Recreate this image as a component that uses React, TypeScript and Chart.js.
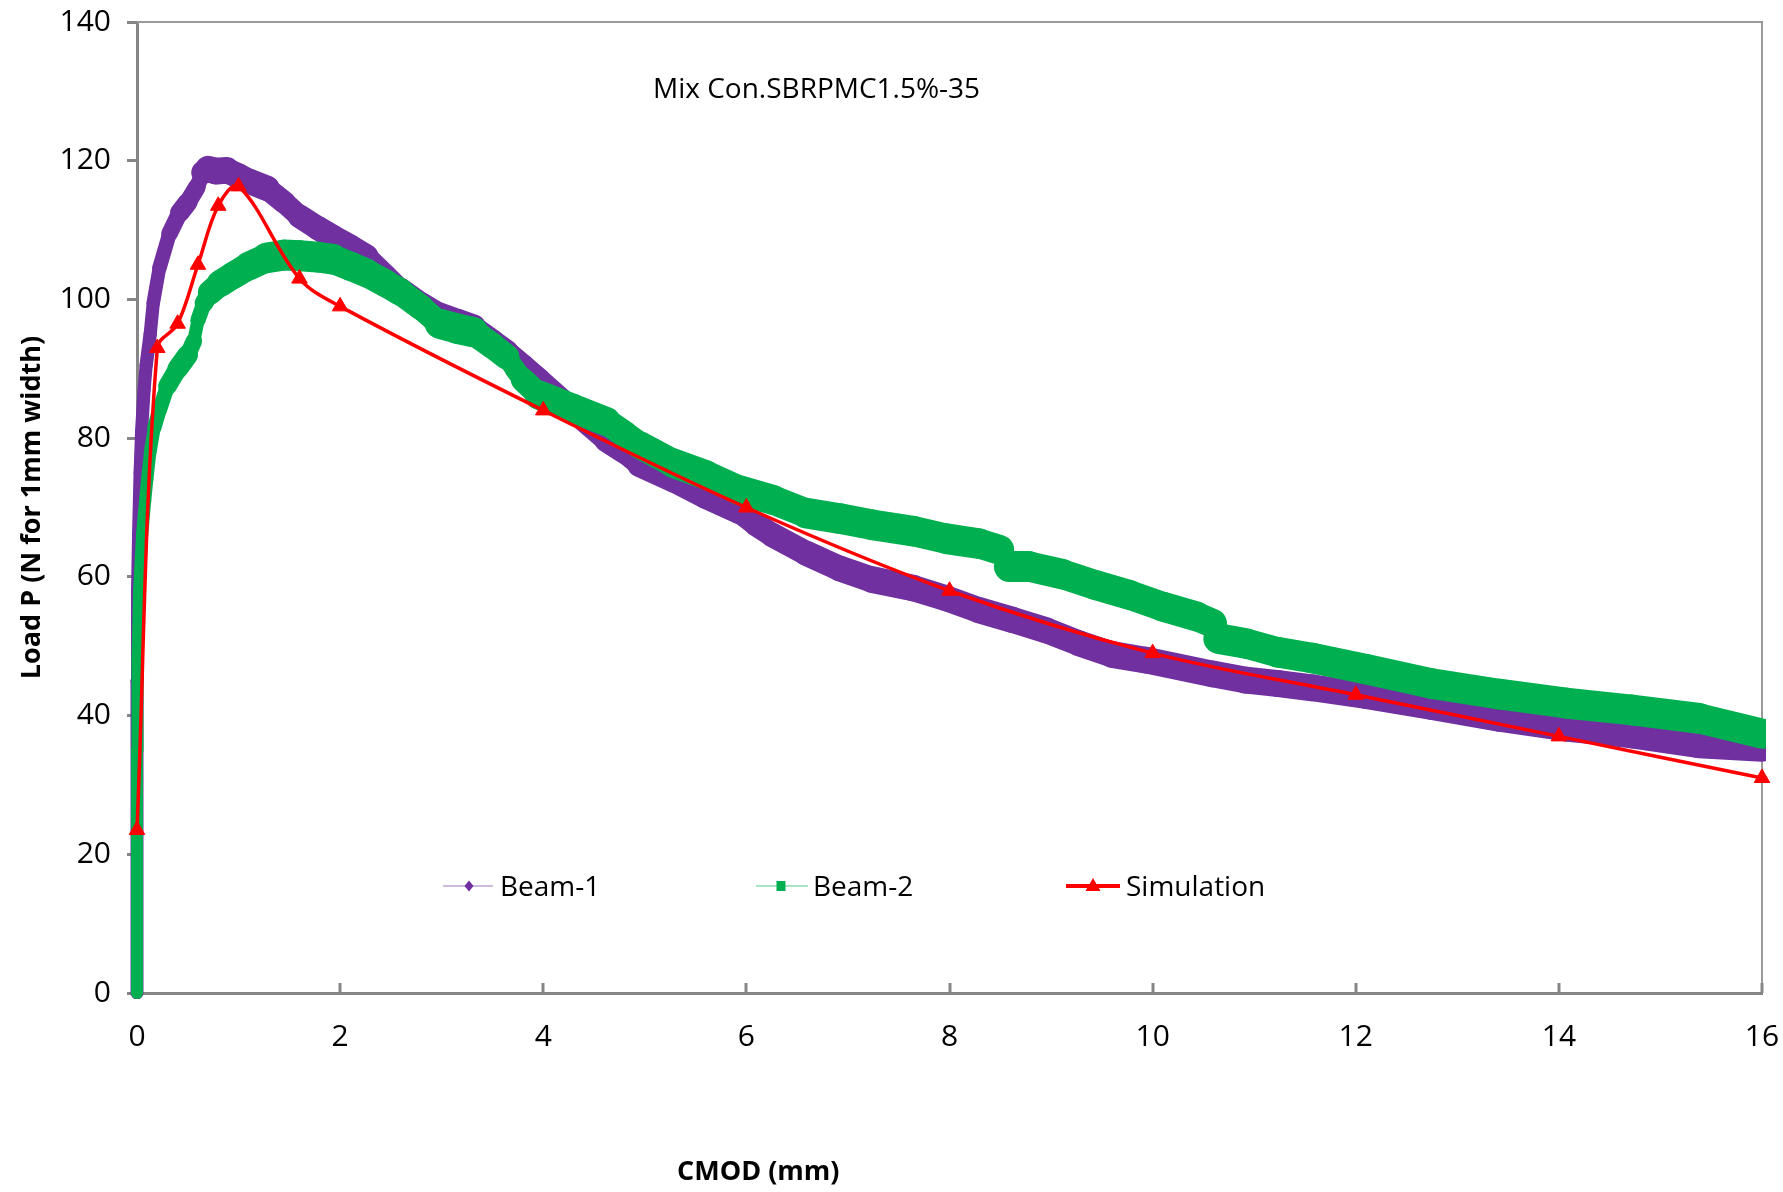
import React, { useEffect, useRef } from 'react';
import { Chart, registerables } from 'chart.js';

Chart.register(...registerables);

// ---------- text ----------
const chartTitle = 'Mix Con.SBRPMC1.5%-35';
const xTitle = 'CMOD (mm)';
const yTitle = 'Load P (N for 1mm width)';
const seriesNames = ['Beam-1', 'Beam-2', 'Simulation'];

// ---------- ticks ----------
const xTicks = [0, 2, 4, 6, 8, 10, 12, 14, 16];
const yTicks = [0, 20, 40, 60, 80, 100, 120, 140];

// ---------- data: [CMOD (mm), Load (N)] ----------
const beam1: [number, number][] = [
  [0, 0], [0, 15], [0, 30], [0, 45], [0.005, 58], [0.015, 66], [0.03, 75], [0.045, 81],
  [0.07, 87], [0.09, 90.5], [0.13, 95], [0.16, 99.5], [0.22, 104.5], [0.32, 109.5],
  [0.42, 112.5], [0.5, 114], [0.59, 116.2], [0.65, 118.3], [0.7, 118.8],
  [0.78, 118.5], [0.88, 118.6], [1.0, 117.8], [1.11, 117], [1.28, 116], [1.45, 114],
  [1.6, 112], [1.78, 110.3], [1.93, 109], [2.1, 107.6], [2.26, 106.2], [2.45, 103.5],
  [2.59, 101.5], [2.8, 99.3], [2.98, 97.7], [3.15, 96.8], [3.31, 96], [3.5, 94],
  [3.64, 92.5], [3.8, 90.5], [3.96, 88.5], [4.19, 85.5], [4.4, 82.5], [4.62, 79.7],
  [4.8, 78], [4.95, 76.2], [5.28, 74], [5.6, 71.6], [5.93, 69.4], [6.1, 67.5], [6.26, 66],
  [6.59, 63.4], [6.92, 61.2], [7.24, 59.6], [7.64, 58.4], [7.97, 56.9], [8.29, 55.2],
  [8.62, 53.8], [8.95, 52.3], [9.28, 50.4], [9.6, 48.8], [9.93, 48], [10.26, 47],
  [10.59, 46], [10.92, 45.1], [11.24, 44.6], [11.57, 44], [12.1, 42.9], [12.75, 41.3],
  [13.41, 39.6], [14.07, 38.2], [14.72, 37.2], [15.38, 35.8], [16.0, 35.3],
];

const beam2: [number, number][] = [
  [0, 0], [0, 10], [0, 22], [0, 35], [0.005, 48], [0.02, 58], [0.05, 66], [0.08, 71],
  [0.1, 74], [0.13, 78], [0.17, 81.5], [0.22, 84], [0.3, 87.5], [0.4, 90], [0.5, 92],
  [0.56, 94], [0.6, 97], [0.66, 99.5], [0.72, 101], [0.82, 102.3], [0.95, 103.5],
  [1.1, 104.8], [1.28, 106], [1.45, 106.4], [1.6, 106.3], [1.78, 106.1], [1.93, 105.8],
  [2.1, 104.8], [2.26, 103.8], [2.45, 102.3], [2.59, 101.1], [2.8, 98.8], [2.98, 96.5],
  [3.15, 95.8], [3.31, 95.3], [3.5, 93.3], [3.64, 91.7], [3.72, 90], [3.8, 88.4],
  [3.96, 86.2], [4.29, 84.3], [4.62, 82.4], [4.8, 80.6], [4.95, 79], [5.28, 76.4],
  [5.6, 74.7], [5.93, 72.5], [6.26, 71.1], [6.59, 69.2], [6.92, 68.4], [7.24, 67.5],
  [7.64, 66.6], [7.97, 65.5], [8.29, 64.8], [8.49, 63.9], [8.59, 61.5], [8.78, 61.5],
  [9.11, 60.4], [9.44, 58.8], [9.77, 57.4], [10.1, 55.7], [10.43, 54.3], [10.59, 53.3],
  [10.65, 51.1], [10.92, 50.4], [11.24, 49.1], [11.57, 48.3], [12.1, 46.7], [12.75, 44.6],
  [13.41, 43.1], [14.07, 41.8], [14.72, 40.8], [15.38, 39.6], [16.0, 37.4],
];

const simulation: [number, number][] = [
  [0, 23.5], [0.2, 93], [0.4, 96.5], [0.6, 105], [0.8, 113.5], [1.0, 116.3], [1.6, 103],
  [2.0, 99], [4, 84], [6, 70], [8, 58], [10, 49], [12, 43], [14, 37], [16, 31],
];

// ---------- styles ----------
const FONT = "'Open Sans', sans-serif";
const AXIS = '#868686';
const PURPLE = '#7030A0';
const GREEN = '#00B050';
const RED = '#FF0000';

const toXY = (arr: [number, number][]) => arr.map(([x, y]) => ({ x, y }));

// band thickness for the dense, noisy measured curves (vertical T, horizontal H)
const bandWidth = (T: number, H: number) => (ctx: any) => {
  const dx = ctx.p1.x - ctx.p0.x;
  const dy = ctx.p1.y - ctx.p0.y;
  const len = Math.hypot(dx, dy) || 1;
  const c = Math.abs(dx) / len;
  const s = Math.abs(dy) / len;
  return Math.sqrt((T * c) ** 2 + (H * s) ** 2);
};

const legendSlots = [
  { l0: 443, l1: 493, m: 469, t: 500, lineColor: 'rgba(112,48,160,0.45)', lw: 1.5, marker: 'diamond' },
  { l0: 756, l1: 808, m: 781, t: 813, lineColor: 'rgba(0,176,80,0.45)', lw: 1.5, marker: 'square' },
  { l0: 1066, l1: 1120, m: 1093, t: 1126, lineColor: RED, lw: 4, marker: 'triangle' },
];

const overlayPlugin = {
  id: 'overlay',
  beforeDatasetsDraw(chart: any) {
    const { ctx, chartArea: a, scales } = chart;
    ctx.save();
    ctx.strokeStyle = '#9a9a9a';
    ctx.lineWidth = 2;
    ctx.beginPath();
    ctx.moveTo(a.left, a.top);
    ctx.lineTo(a.right, a.top);
    ctx.lineTo(a.right, a.bottom);
    ctx.stroke();
    ctx.strokeStyle = AXIS;
    ctx.lineWidth = 3;
    for (const t of scales.x.ticks) {
      const px = Math.round(scales.x.getPixelForValue(t.value));
      ctx.beginPath();
      ctx.moveTo(px, a.bottom);
      ctx.lineTo(px, a.bottom - 10);
      ctx.stroke();
    }
    ctx.restore();
  },
  afterDraw(chart: any) {
    const { ctx } = chart;
    ctx.save();
    ctx.fillStyle = '#000';
    ctx.textAlign = 'left';
    ctx.textBaseline = 'alphabetic';
    ctx.font = `28px ${FONT}`;
    ctx.fillText(chartTitle, 653, 98);
    ctx.font = `bold 27px ${FONT}`;
    ctx.fillText(xTitle, 677, 1180);

    // legend
    const ly = 886;
    chart.data.datasets.forEach((ds: any, i: number) => {
      const s = legendSlots[i];
      ctx.strokeStyle = s.lineColor;
      ctx.lineWidth = s.lw;
      ctx.beginPath();
      ctx.moveTo(s.l0, ly);
      ctx.lineTo(s.l1, ly);
      ctx.stroke();
      ctx.fillStyle = ds.legendColor;
      ctx.beginPath();
      if (s.marker === 'diamond') {
        ctx.moveTo(s.m, ly - 5.5);
        ctx.lineTo(s.m + 4.5, ly);
        ctx.lineTo(s.m, ly + 5.5);
        ctx.lineTo(s.m - 4.5, ly);
        ctx.closePath();
      } else if (s.marker === 'square') {
        ctx.rect(s.m - 4.5, ly - 5, 9, 10);
      } else {
        ctx.moveTo(s.m, ly - 8);
        ctx.lineTo(s.m + 7.5, ly + 5);
        ctx.lineTo(s.m - 7.5, ly + 5);
        ctx.closePath();
      }
      ctx.fill();
      ctx.fillStyle = '#000';
      ctx.font = `28px ${FONT}`;
      ctx.fillText(ds.label, s.t, ly + 10);
    });
    ctx.restore();
  },
};

export default function App() {
  const canvasRef = useRef<HTMLCanvasElement | null>(null);

  useEffect(() => {
    document.body.style.margin = '0';
    const canvas = canvasRef.current;
    if (!canvas) return;
    const chart = new Chart(canvas, {
      type: 'line',
      data: {
        datasets: [
          {
            label: seriesNames[0],
            data: toXY(beam1),
            borderColor: PURPLE,
            backgroundColor: PURPLE,
            legendColor: PURPLE,
            borderWidth: 27,
            borderCapStyle: 'round',
            borderJoinStyle: 'round',
            pointRadius: 0,
            tension: 0,
            order: 2,
            clip: { left: 8, right: 4, top: 0, bottom: 6 },
            segment: { borderWidth: bandWidth(27, 13) },
          } as any,
          {
            label: seriesNames[1],
            data: toXY(beam2),
            borderColor: GREEN,
            backgroundColor: GREEN,
            legendColor: GREEN,
            borderWidth: 31,
            borderCapStyle: 'round',
            borderJoinStyle: 'round',
            pointRadius: 0,
            tension: 0,
            order: 1,
            clip: { left: 8, right: 4, top: 0, bottom: 6 },
            segment: { borderWidth: bandWidth(31, 12) },
          } as any,
          {
            label: seriesNames[2],
            data: toXY(simulation),
            borderColor: RED,
            backgroundColor: RED,
            legendColor: RED,
            borderWidth: 3.5,
            tension: 0.35,
            pointStyle: 'triangle',
            pointRadius: 9,
            pointBackgroundColor: RED,
            pointBorderColor: RED,
            pointBorderWidth: 1,
            order: 0,
            clip: false,
          } as any,
        ],
      },
      options: {
        responsive: false,
        animation: false,
        devicePixelRatio: 1,
        events: [],
        layout: { padding: { top: 22, right: 21, left: 0, bottom: 0 } },
        plugins: { legend: { display: false }, tooltip: { enabled: false }, title: { display: false } },
        scales: {
          x: {
            type: 'linear',
            min: 0,
            max: 16,
            afterBuildTicks: (s: any) => { s.ticks = xTicks.map((v) => ({ value: v })); },
            afterFit: (s: any) => { s.height = 199; s.paddingLeft = 0; s.paddingRight = 0; },
            ticks: { padding: 18, color: '#000', font: { family: FONT, size: 30 }, maxRotation: 0, autoSkip: false },
            grid: { display: false },
            border: { display: true, color: AXIS, width: 3 },
          },
          y: {
            type: 'linear',
            min: 0,
            max: 140,
            afterBuildTicks: (s: any) => { s.ticks = yTicks.map((v) => ({ value: v })); },
            afterFit: (s: any) => { s.width = 137; s.paddingTop = 0; s.paddingBottom = 0; },
            ticks: { padding: 16, color: '#000', font: { family: FONT, size: 30 } },
            grid: { display: true, drawOnChartArea: false, drawTicks: true, tickLength: 10, tickWidth: 3, tickColor: AXIS, color: AXIS, lineWidth: 3 },
            border: { display: true, color: AXIS, width: 3 },
            title: { display: true, text: yTitle, color: '#000', font: { family: FONT, size: 27, weight: 'bold' }, padding: { top: 16, bottom: 0 } },
          },
        },
      } as any,
      plugins: [overlayPlugin],
    });
    return () => chart.destroy();
  }, []);

  return (
    <div style={{ position: 'fixed', left: 0, top: 0, width: 1783, height: 1192, background: '#fff' }}>
      <canvas ref={canvasRef} width={1783} height={1192} style={{ display: 'block' }} />
    </div>
  );
}
